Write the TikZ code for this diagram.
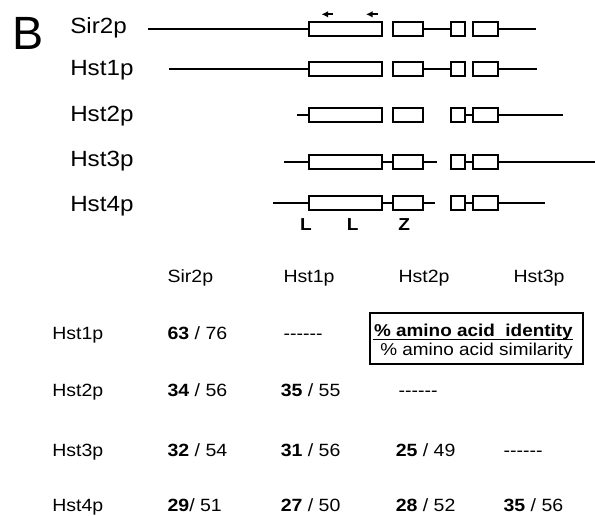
\documentclass[tikz,border=0pt]{standalone}
\usepackage{fontspec}
\setmainfont[FakeStretch=1.1]{Liberation Sans}
\newfontfamily\plainsans{Liberation Sans}
\usetikzlibrary{arrows.meta}

% four conserved domains of one protein, on row y = #2
\newcommand\domainrow[2]{%
  \node[dombox, minimum width=54.75pt] (#1a) at (345.8,#2) {};
  \node[dombox, minimum width=23pt]    (#1b) at (408.0,#2) {};
  \node[dombox, minimum width=10.3pt]  (#1c) at (457.9,#2) {};
  \node[dombox, minimum width=18.75pt] (#1d) at (485.8,#2) {};
}
% a run of six hyphens, kept apart so they are not ligatured into dashes
\newcommand\nodata{{-}{-}{-}{-}{-}{-}}

\tikzset{
  dombox/.style={draw, line width=1.5pt, rectangle, inner sep=0pt,
                 minimum height=10.5pt, fill=white},
  seq/.style={line width=1.2pt},
  protname/.style={anchor=base west, inner sep=0pt,
                   font=\fontsize{16.5pt}{19pt}\selectfont},
  cell/.style={anchor=base west, inner sep=0pt,
               font=\fontsize{13.3pt}{16pt}\selectfont},
  keytext/.style={anchor=base east, inner sep=0pt,
               font=\fontsize{12.9pt}{15pt}\selectfont},
  motif/.style={anchor=base, inner sep=0pt,
                font=\bfseries\fontsize{13pt}{15pt}\selectfont},
  primer/.style={line width=1.4pt, -{Latex[length=5pt,width=5pt]}},
}

\begin{document}
\begin{tikzpicture}[x=0.75pt, y=-0.75pt]
\useasboundingbox (0,0) rectangle (595,516);

% panel letter
\node[anchor=base west, inner sep=0pt,
      font=\plainsans\fontsize{35pt}{40pt}\selectfont] (panel) at (12,50) {B};

% protein names
\node[protname] (nSir2) at (70,33.3)  {Sir2p};
\node[protname] (nHst1) at (70,76)    {Hst1p};
\node[protname] (nHst2) at (70,121.7) {Hst2p};
\node[protname] (nHst3) at (70,166.7) {Hst3p};
\node[protname] (nHst4) at (70,211.7) {Hst4p};

% domain boxes
\domainrow{s}{29}
\domainrow{h}{69}
\domainrow{t}{115}
\domainrow{u}{162}
\domainrow{v}{203}

% free ends of the sequence lines
\coordinate (sL) at (148,29);    \coordinate (sR) at (536,29);
\coordinate (hL) at (169,69);    \coordinate (hR) at (536.7,69);
\coordinate (tL) at (296.7,115); \coordinate (tR) at (563.3,115);
\coordinate (uL) at (284,162);   \coordinate (uR) at (595,162);
\coordinate (uS) at (436.7,162);
\coordinate (vL) at (273.3,203); \coordinate (vR) at (545,203);
\coordinate (vS) at (435,203);

% Sir2p
\draw[seq] (sL) -- (sa.west);
\draw[seq] (sb.east) -- (sc.west);
\draw[seq] (sd.east) -- (sR);
% Hst1p
\draw[seq] (hL) -- (ha.west);
\draw[seq] (hb.east) -- (hc.west);
\draw[seq] (hd.east) -- (hR);
% Hst2p
\draw[seq] (tL) -- (ta.west);
\draw[seq] (tc.east) -- (td.west);
\draw[seq] (td.east) -- (tR);
% Hst3p
\draw[seq] (uL) -- (ua.west);
\draw[seq] (ua.east) -- (ub.west);
\draw[seq] (ub.east) -- (uS);
\draw[seq] (uc.east) -- (ud.west);
\draw[seq] (ud.east) -- (uR);
% Hst4p
\draw[seq] (vL) -- (va.west);
\draw[seq] (va.east) -- (vb.west);
\draw[seq] (vb.east) -- (vS);
\draw[seq] (vc.east) -- (vd.west);
\draw[seq] (vd.east) -- (vR);

% primer arrows above Sir2p
\coordinate (p1s) at (332.5,14.3); \coordinate (p1e) at (321.5,14.3);
\coordinate (p2s) at (377.5,14.3); \coordinate (p2e) at (366,14.3);
\draw[primer] (p1s) -- (p1e);
\draw[primer] (p2s) -- (p2e);

% motif letters
\node[motif] (m1) at (306,230.7)   {L};
\node[motif] (m2) at (352.7,230.7) {L};
\node[motif] (m3) at (404.3,230.7) {Z};

% table: column headings
\node[cell] (c1) at (167.3,282.7) {Sir2p};
\node[cell] (c2) at (283.3,282.7) {Hst1p};
\node[cell] (c3) at (398.3,282.7) {Hst2p};
\node[cell] (c4) at (513.3,282.7) {Hst3p};

% table: row headings
\node[cell] (r1) at (52,339.3) {Hst1p};
\node[cell] (r2) at (52,396.7) {Hst2p};
\node[cell] (r3) at (52,456.7) {Hst3p};
\node[cell] (r4) at (52,511.7) {Hst4p};

% table: entries
\node[cell] (e11) at (167.3,339.3) {\textbf{63} / 76};
\node[cell] (e12) at (283.3,339.3) {\nodata};
\node[cell] (e21) at (167.3,396.7) {\textbf{34} / 56};
\node[cell] (e22) at (280.5,396.7) {\textbf{35} / 55};
\node[cell] (e23) at (398.3,396.7) {\nodata};
\node[cell] (e31) at (167.3,456.7) {\textbf{32} / 54};
\node[cell] (e32) at (280.5,456.7) {\textbf{31} / 56};
\node[cell] (e33) at (395.5,456.7) {\textbf{25} / 49};
\node[cell] (e34) at (503.3,456.7) {\nodata};
\node[cell] (e41) at (167.3,511.7) {\textbf{29}/ 51};
\node[cell] (e42) at (280.5,511.7) {\textbf{27} / 50};
\node[cell] (e43) at (395.5,511.7) {\textbf{28} / 52};
\node[cell] (e44) at (503.3,511.7) {\textbf{35} / 56};

% legend box
\node[draw, line width=1.5pt, rectangle, inner sep=0pt,
      minimum width=159.5pt, minimum height=38.5pt] (key) at (476.65,338.35) {};
\node[keytext] (k1) at (573,336.3)
  {\textbf{\% amino acid~~identity}};
\node[keytext] (k2) at (573,355.8)
  {\% amino acid similarity};
\coordinate (u1) at (373,339.6);
\coordinate (u2) at (573,339.6);
\draw[line width=0.9pt] (u1) -- (u2);

\end{tikzpicture}
\end{document}
